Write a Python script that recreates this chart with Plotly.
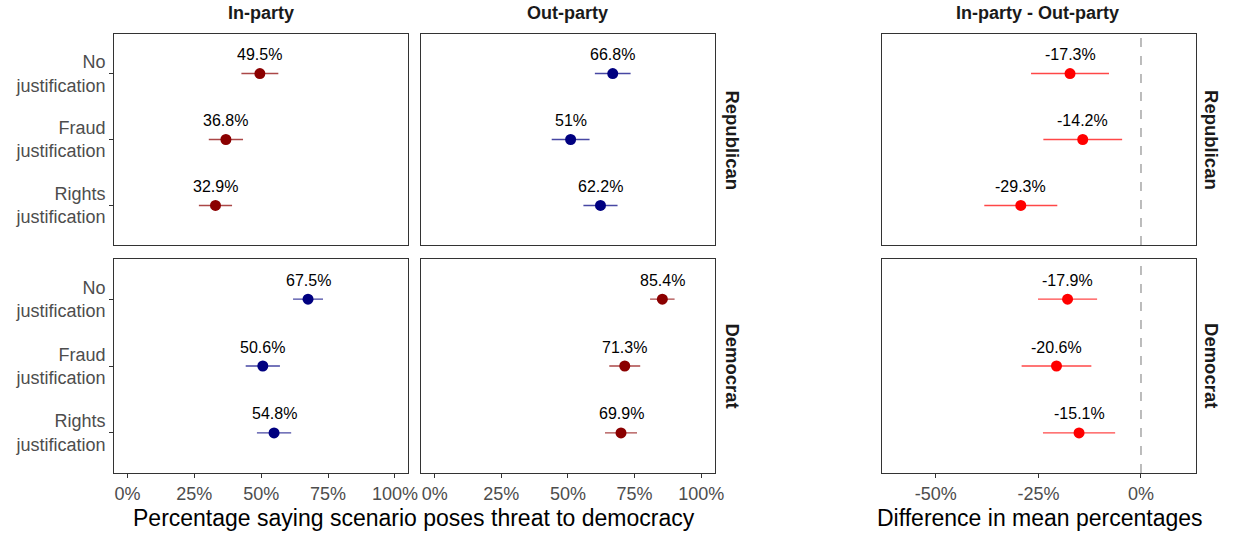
import plotly.graph_objects as go

# Layout grid (pixels) used to place panels and labels as paper fractions
W, H = 1233, 534
FIG_W = 1244

# Scenario categories (top to bottom)
scenarios = ["No justification", "Fraud justification", "Rights justification"]
tick_text = ["No<br>justification", "Fraud<br>justification", "Rights<br>justification"]

# Percentage saying scenario poses threat to democracy, with CI half-widths
rep_in = [49.5, 36.8, 32.9]
rep_in_ci = [6.9, 6.4, 6.2]
rep_out = [66.8, 51.0, 62.2]
rep_out_ci = [6.7, 7.1, 6.4]
dem_in = [67.5, 50.6, 54.8]
dem_in_ci = [5.6, 6.4, 6.4]
dem_out = [85.4, 71.3, 69.9]
dem_out_ci = [4.6, 5.8, 6.0]

# In-party minus out-party differences
rep_diff = [-17.3, -14.2, -29.3]
rep_diff_ci = [9.5, 9.6, 8.9]
dem_diff = [-17.9, -20.6, -15.1]
dem_diff_ci = [7.2, 8.5, 8.8]

pct_ticks = [0, 25, 50, 75, 100]
pct_tick_text = ["0%", "25%", "50%", "75%", "100%"]
diff_ticks = [-50, -25, 0]
diff_tick_text = ["-50%", "-25%", "0%"]

DARKRED = "#8B0000"
NAVY = "#000080"
RED = "#FF0000"
BAR = {DARKRED: "rgba(139,0,0,0.72)", NAVY: "rgba(0,0,128,0.72)", RED: "rgba(255,0,0,0.72)"}

FONT = "Liberation Sans, Arial, sans-serif"

def px_x(a, b):
    return [a / W, b / W]

def px_y(top, bottom):
    return [1 - bottom / H, 1 - top / H]

cols = [px_x(114, 408), px_x(421, 714), px_x(881, 1195)]
rows = [px_y(34, 245), px_y(259, 473)]

fig = go.Figure()

panels = [
    # (row, col, values, ci, colour)
    (0, 0, rep_in, rep_in_ci, DARKRED),
    (0, 1, rep_out, rep_out_ci, NAVY),
    (0, 2, rep_diff, rep_diff_ci, RED),
    (1, 0, dem_in, dem_in_ci, NAVY),
    (1, 1, dem_out, dem_out_ci, DARKRED),
    (1, 2, dem_diff, dem_diff_ci, RED),
]

layout = {}
for idx, (r, c, vals, ci, colour) in enumerate(panels):
    n = idx + 1
    xa = "x" if n == 1 else f"x{n}"
    ya = "y" if n == 1 else f"y{n}"
    fig.add_trace(go.Scatter(
        x=vals, y=scenarios, xaxis=xa, yaxis=ya, mode="markers",
        marker=dict(color=colour, size=11),
        error_x=dict(type="data", array=ci, symmetric=True, color=BAR[colour],
                     thickness=1.4, width=0),
        showlegend=False, hoverinfo="skip",
    ))
    for v, s in zip(vals, scenarios):
        fig.add_annotation(x=v, y=s, xref=xa, yref=ya, text=f"{v:g}%",
                           showarrow=False, yshift=19,
                           xanchor="center", yanchor="middle",
                           font=dict(family=FONT, size=16, color="black"))

    is_diff = c == 2
    xkey = "xaxis" if n == 1 else f"xaxis{n}"
    ykey = "yaxis" if n == 1 else f"yaxis{n}"
    layout[xkey] = dict(
        domain=cols[c], anchor=ya,
        range=[-63.2, 13.4] if is_diff else [-5, 105],
        tickvals=diff_ticks if is_diff else pct_ticks,
        ticktext=diff_tick_text if is_diff else pct_tick_text,
        showticklabels=(r == 1), ticks="outside" if r == 1 else "",
        ticklen=4, tickwidth=1, tickcolor="#333333",
        showline=True, mirror=True, linecolor="#333333", linewidth=1,
        showgrid=False, zeroline=False,
        tickfont=dict(family=FONT, size=18, color="#4D4D4D"),
    )
    layout[ykey] = dict(
        domain=rows[r], anchor=xa,
        type="category", categoryarray=scenarios,
        range=[2.6, -0.6],
        tickvals=scenarios, ticktext=tick_text,
        showticklabels=(c == 0), ticks="outside" if c == 0 else "",
        ticklen=4, tickwidth=1, tickcolor="#333333",
        showline=True, mirror=True, linecolor="#333333", linewidth=1,
        showgrid=False, zeroline=False,
        tickfont=dict(family=FONT, size=18, color="#4D4D4D"),
    )

fig.update_layout(**layout)

# Reference line at zero difference
for xa, ya in [("x3", "y3"), ("x6", "y6")]:
    fig.add_shape(type="line", xref=xa, yref=f"{ya} domain",
                  x0=0, x1=0, y0=0, y1=1,
                  line=dict(color="#A6A6A6", width=1.5, dash="dash"))

def paper_text(text, cx, cy, size, color, angle=0):
    fig.add_annotation(x=cx / W, y=1 - cy / H, xref="paper", yref="paper", text=text,
                       showarrow=False, textangle=angle,
                       xanchor="center", yanchor="middle",
                       font=dict(family=FONT, size=size, color=color))

# Column strip titles
for text, cx in [("In-party", 261), ("Out-party", 567), ("In-party - Out-party", 1037)]:
    paper_text(f"<b>{text}</b>", cx, 13, 18, "#1A1A1A")

# Row strip titles
for text, cy in [("Republican", 140), ("Democrat", 366)]:
    for sx in [732, 1211]:
        paper_text(f"<b>{text}</b>", sx, cy, 18.5, "#1A1A1A", angle=90)

# Axis titles
paper_text("Percentage saying scenario poses threat to democracy", 414, 518, 23, "black")
paper_text("Difference in mean percentages", 1039, 518, 23, "black")

fig.update_layout(
    width=FIG_W, height=H, margin=dict(l=0, r=0, t=0, b=0),
    paper_bgcolor="white", plot_bgcolor="white",
    font=dict(family=FONT),
)

fig.write_html("out.html")
